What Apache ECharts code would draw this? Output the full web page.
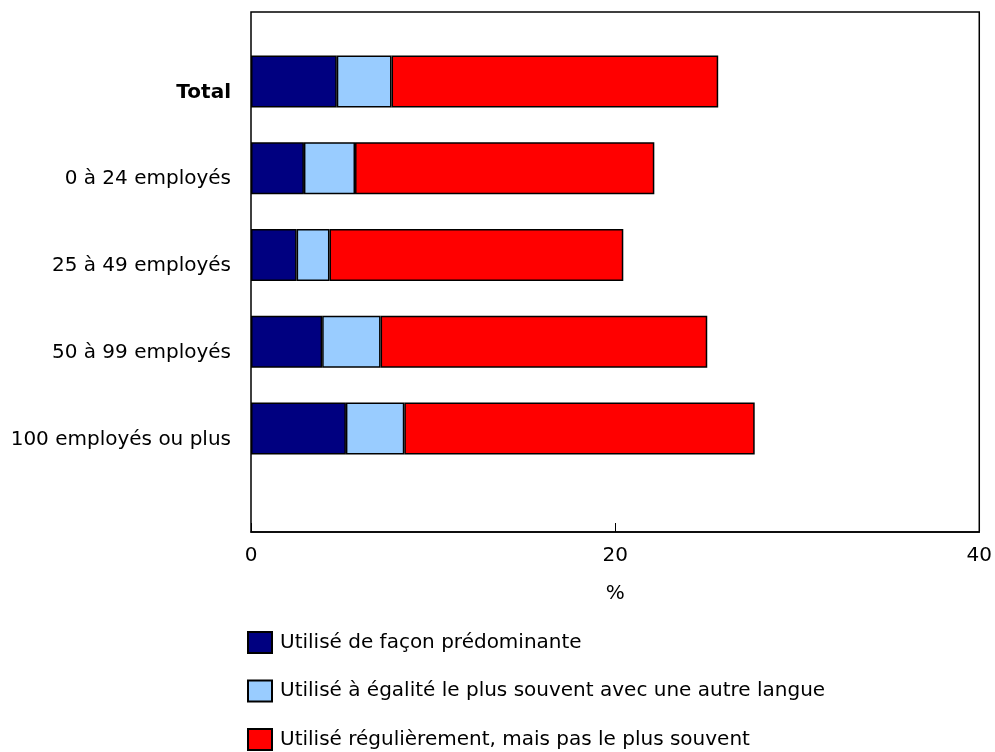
<!DOCTYPE html>
<html>
<head>
<meta charset="utf-8">
<script src="https://cdn.jsdelivr.net/npm/echarts@6/dist/echarts.min.js"></script>
<style>html,body{margin:0;padding:0;background:#fff;}#c{width:995px;height:752px;}</style>
</head>
<body>
<div id="c"></div>
<script>
const categories = ['Total', '0 à 24 employés', '25 à 49 employés', '50 à 99 employés', '100 employés ou plus'];
const seriesNames = ['Utilisé de façon prédominante', 'Utilisé à égalité le plus souvent avec une autre langue', 'Utilisé régulièrement, mais pas le plus souvent'];
const predominant = [4.7, 2.9, 2.5, 3.9, 5.2];
const egalite = [3.0, 2.8, 1.8, 3.2, 3.2];
const regulier = [17.9, 16.4, 16.1, 17.9, 19.2];
const xTicks = [0, 20, 40];
const colors = ['#000080', '#99CCFF', '#FF0000'];

const FONT = 'DejaVu Sans';
const FS = 20;
const chart = echarts.init(document.getElementById('c'), null, {renderer: 'canvas'});
const values = [predominant, egalite, regulier];
chart.setOption({
  animation: false,
  textStyle: {fontFamily: FONT, color: '#000'},
  grid: [
    {left: 251, right: 14, top: 12, bottom: 220, show: true, borderColor: '#000', borderWidth: 1.5, backgroundColor: 'transparent'},
    {left: 251, right: 14, top: 38, bottom: 280}
  ],
  xAxis: [
    {gridIndex: 0, type: 'value', min: xTicks[0], max: xTicks[xTicks.length - 1], interval: xTicks[1] - xTicks[0],
     name: '%', nameLocation: 'middle', nameGap: 52,
     nameTextStyle: {fontFamily: FONT, fontSize: FS, color: '#000'},
     axisLine: {show: true, lineStyle: {color: '#000', width: 1.5}},
     axisTick: {show: true, inside: true, length: 9, lineStyle: {color: '#000', width: 1}},
     axisLabel: {fontFamily: FONT, fontSize: FS, color: '#000', margin: 14},
     splitLine: {show: false}},
    {gridIndex: 1, type: 'value', min: xTicks[0], max: xTicks[xTicks.length - 1], show: false}
  ],
  yAxis: [
    {gridIndex: 0, type: 'value', show: false},
    {gridIndex: 1, type: 'category', data: categories, inverse: true,
     axisLine: {show: false}, axisTick: {show: false},
     axisLabel: {fontFamily: FONT, fontSize: FS, color: '#000', margin: 20, padding: [22, 0, 0, 0],
       formatter: function (v, i) { return i === 0 ? '{b|' + v + '}' : v; },
       rich: {b: {fontFamily: FONT, fontSize: FS, fontWeight: 'bold', color: '#000'}}}}
  ],
  legend: {
    orient: 'vertical', left: 247, top: 631, height: 200, padding: 0,
    itemWidth: 24, itemHeight: 21, itemGap: 25.5,
    icon: 'rect',
    textStyle: {fontFamily: FONT, fontSize: FS, color: '#000', padding: [0, 0, 0, 3]},
    data: seriesNames
  },
  series: seriesNames.map(function (n, k) {
    return {
      name: n, type: 'bar', stack: 's', xAxisIndex: 1, yAxisIndex: 1,
      barWidth: 52,
      itemStyle: {color: colors[k], borderColor: '#000', borderWidth: 1.5},
      data: values[k]
    };
  })
});
</script>
</body>
</html>
